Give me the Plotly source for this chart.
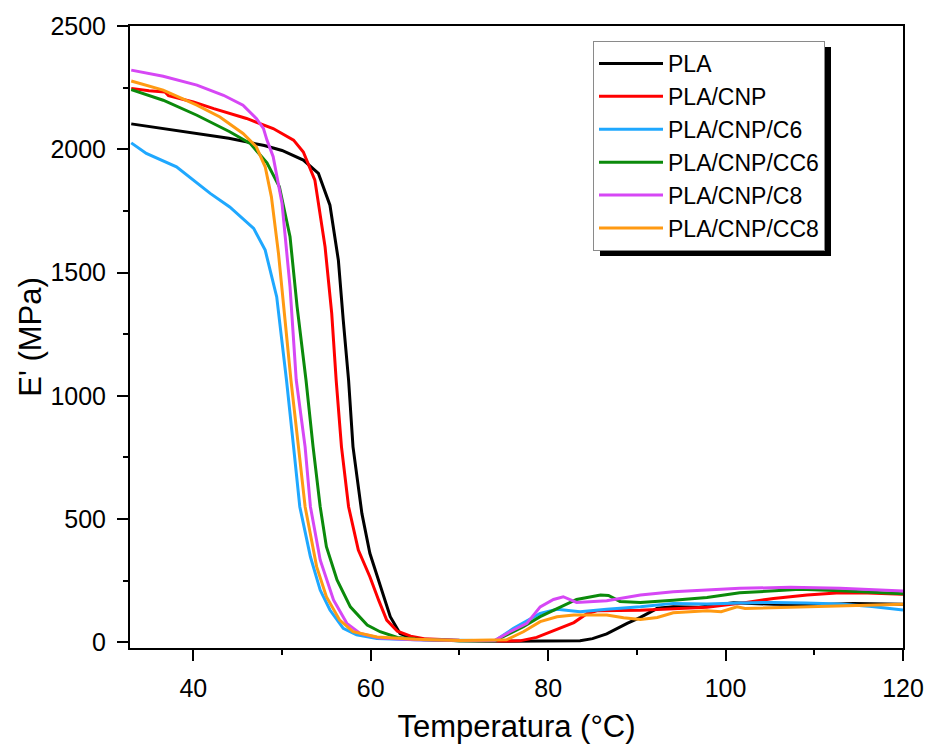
import plotly.graph_objects as go

# ---------------- data ----------------
series_names = ["PLA", "PLA/CNP", "PLA/CNP/C6", "PLA/CNP/CC6", "PLA/CNP/C8", "PLA/CNP/CC8"]
series_colors = ["#000000", "#FF0000", "#1FA8FF", "#0B8A0B", "#D647F5", "#FF9A12"]

pla_T = [33, 36, 40, 44, 48, 50, 52.4, 54.1, 55.4, 56.35, 56.9, 57.5, 58.0, 59.0, 59.9, 60.9,
         62.2, 63.3, 64.5, 66, 70, 75, 80, 83.6, 85, 86.6, 88.9, 90.4, 92.3, 94.1, 97,
         100.9, 105.4, 110, 114.4, 120]
pla_E = [2103, 2088, 2068, 2045, 2015, 1995, 1956, 1902, 1773, 1550, 1307, 1064, 793, 523, 361, 253,
         104, 36, 18, 12, 6, 4, 4, 6, 15, 34, 77, 101, 138, 144, 142,
         161, 154, 152, 158, 154]

cnp_T = [33, 35, 36.8, 37.2, 40, 42.3, 46, 49, 51.3, 52.4, 53.7, 54.85, 55.6, 56.1, 56.7, 57.5,
         58.6, 59.9, 60.9, 61.8, 63, 64.5, 66, 70, 75, 76.8, 78.7, 81, 82.9, 84.4, 85.5,
         90.4, 97.9, 101.6, 105.4, 109.2, 112.9, 116, 120]
cnp_E = [2247, 2237, 2232, 2217, 2192, 2165, 2125, 2084, 2037, 1989, 1875, 1604, 1334, 1064, 793, 550,
         374, 266, 170, 90, 45, 25, 15, 8, 5, 6, 20, 53, 80, 117, 128,
         130, 142, 158, 178, 192, 201, 200, 195]

c6_T = [33, 34.7, 38.1, 41.9, 44.1, 46.8, 48.1, 49.4, 49.97, 50.5, 51.3, 52.0, 53.2, 54.3, 55.4,
        56.9, 58.4, 60.7, 65, 70, 74, 76.1, 77.2, 79.1, 81, 83.6, 86.6, 90.4, 94.1, 97.9,
        101.6, 105.4, 109, 112.9, 116.5, 120]
c6_E = [2026, 1983, 1929, 1821, 1766, 1679, 1591, 1401, 1226, 1064, 793, 550, 347, 212, 131,
        57, 30, 16, 10, 7, 6, 57, 80, 117, 134, 124, 134, 144, 158, 155,
        160, 162, 160, 155, 145, 131]

cc6_T = [33, 36.6, 40.4, 44.1, 46.4, 48.3, 49.7, 50.9, 51.7, 52.7, 53.5, 54.3, 55.0, 56.2, 57.7,
         59.6, 61.05, 63, 66, 70, 74, 75.3, 77.2, 79.1, 81, 83.2, 85.9, 86.8, 88.1, 90.4,
         94.1, 97.9, 101.6, 105.4, 108.4, 112.9, 120]
cc6_E = [2242, 2199, 2138, 2071, 2024, 1945, 1848, 1645, 1361, 1064, 793, 550, 388, 253, 144,
         70, 43, 20, 10, 6, 6, 30, 63, 104, 138, 174, 192, 190, 166, 162,
         171, 182, 201, 209, 215, 209, 197]

c8_T = [33, 36.6, 40.4, 43.4, 45.6, 47.1, 47.9, 48.3, 49.0, 50.0, 50.9, 51.6, 52.6, 53.2, 54.3,
        55.8, 57.3, 58.8, 61, 65, 70, 74, 75.7, 77.6, 79.1, 80.6, 81.7, 83.2, 86.6, 90.4,
        94.1, 97.9, 101.6, 107.3, 112.9, 120]
c8_E = [2321, 2296, 2260, 2219, 2179, 2125, 2085, 2037, 1970, 1780, 1442, 1064, 793, 550, 334,
        172, 77, 36, 18, 10, 7, 8, 43, 77, 144, 174, 185, 162, 169, 192,
        205, 212, 219, 223, 219, 208]

cc8_T = [33, 36.6, 40.4, 43, 45.6, 47.1, 48.1, 48.8, 49.6, 50.35, 51.0, 51.85, 52.6, 53.9, 55.0,
         56.5, 58.0, 60.7, 65, 70, 74, 75.3, 77.2, 79.1, 81, 82.9, 86.6, 88.5, 90.4, 92.3,
         94.1, 97.9, 99.5, 101.3, 102.2, 105.4, 112.9, 120]
cc8_E = [2277, 2240, 2179, 2131, 2064, 2010, 1929, 1807, 1577, 1307, 1064, 793, 550, 307, 185,
         90, 43, 22, 12, 7, 8, 10, 43, 84, 104, 111, 111, 100, 93, 101,
         120, 128, 124, 144, 137, 140, 148, 154]

x_tick_vals = [40, 60, 80, 100, 120]
y_tick_vals = [0, 500, 1000, 1500, 2000, 2500]

series_T = [pla_T, cnp_T, c6_T, cc6_T, c8_T, cc8_T]
series_E = [pla_E, cnp_E, c6_E, cc6_E, c8_E, cc8_E]

# ---------------- figure ----------------
FONT = "Liberation Sans, Arial, sans-serif"
fig = go.Figure()
for name, col, T, E in zip(series_names, series_colors, series_T, series_E):
    fig.add_trace(go.Scatter(
        x=T, y=E, mode="lines", name=name,
        line=dict(color=col, width=3),
    ))

axis_common = dict(
    showline=True, linecolor="black", linewidth=2, mirror=True,
    ticks="outside", ticklen=11, tickwidth=2, tickcolor="black",
    showgrid=False, zeroline=False, automargin=False,
    tickfont=dict(family=FONT, size=25, color="black"),
)

fig.update_xaxes(
    range=[32.86, 120], tickvals=x_tick_vals,
    minor=dict(dtick=10, tick0=0, ticks="outside", ticklen=5, tickwidth=2, tickcolor="black"),
    title=dict(text="Temperatura (°C)", font=dict(family=FONT, size=31, color="black"), standoff=14),
    ticklabelstandoff=6,
    **axis_common,
)
fig.update_yaxes(
    range=[-23, 2500], tickvals=y_tick_vals,
    minor=dict(dtick=250, tick0=0, ticks="outside", ticklen=5, tickwidth=2, tickcolor="black"),
    title=dict(text="E' (MPa)", font=dict(family=FONT, size=31, color="black"), standoff=0),
    ticklabelstandoff=6,
    **axis_common,
)

# legend drop shadow
PW, PH = 773, 622
fig.add_shape(type="rect", xref="paper", yref="paper",
              x0=(600 - 130) / PW, x1=(831 - 130) / PW,
              y0=(648 - 256) / PH, y1=(648 - 47) / PH,
              fillcolor="black", line=dict(width=0), layer="above")

fig.update_layout(
    width=926, height=745,
    margin=dict(l=130, r=23, t=26, b=97),
    paper_bgcolor="white", plot_bgcolor="white",
    font=dict(family=FONT, color="black"),
    legend=dict(
        x=(593 - 130) / PW, y=(648 - 41) / PH, xanchor="left", yanchor="top",
        bgcolor="white", bordercolor="#8a8a8a", borderwidth=1,
        font=dict(family=FONT, size=23, color="black"),
        tracegroupgap=0, itemwidth=64,
    ),
    showlegend=True,
)

fig.write_html("out.html", config={"displayModeBar": False},
               post_script="document.body.style.margin='0';")
